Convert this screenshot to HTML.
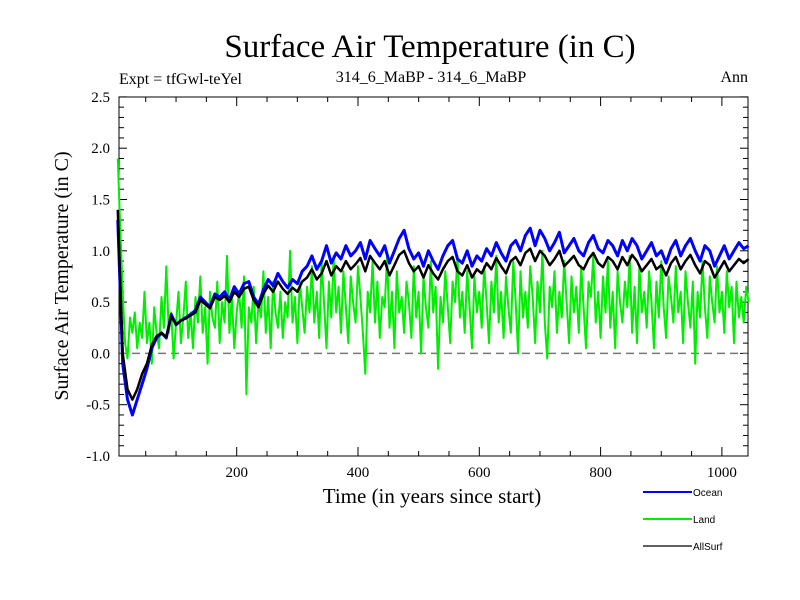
<!DOCTYPE html>
<html><head><meta charset="utf-8"><style>
body{margin:0;background:#fff;}
svg{display:block;font-family:"Liberation Serif",serif;}
</style></head><body>
<svg id="chart" width="800" height="600">
<text x="430" y="57" font-size="33" text-anchor="middle">Surface Air Temperature (in C)</text>
<text x="119" y="84" font-size="16">Expt = tfGwl-teYel</text>
<text x="431" y="82" font-size="16" text-anchor="middle">314_6_MaBP - 314_6_MaBP</text>
<text x="748" y="82" font-size="16" text-anchor="end">Ann</text>
<text x="432" y="503" font-size="21" text-anchor="middle">Time (in years since start)</text>
<text transform="translate(68,276) rotate(-90)" font-size="20" text-anchor="middle">Surface Air Temperature (in C)</text>
<g id="axes"></g>
<g id="series"></g>
<g id="legend"></g>
</svg>
<script>
const yTicks=[-1.0,-0.5,0.0,0.5,1.0,1.5,2.0,2.5];
const xTicks=[200,400,600,800,1000];
const seriesNames=["Ocean","Land","AllSurf"];
const ocean=[1.3,-0.1,-0.45,-0.6,-0.45,-0.3,-0.15,0.05,0.15,0.2,0.15,0.38,0.28,0.32,0.35,0.38,0.42,0.55,0.5,0.45,0.58,0.55,0.6,0.52,0.65,0.58,0.68,0.7,0.55,0.48,0.62,0.72,0.66,0.78,0.7,0.64,0.72,0.68,0.8,0.85,0.95,0.82,0.9,1.05,0.88,0.98,0.92,1.05,0.95,1.0,1.08,0.92,1.1,1.02,0.95,1.05,0.88,1.0,1.12,1.2,1.02,0.92,0.98,0.85,1.0,0.9,0.82,0.95,1.05,1.1,0.92,0.88,1.0,0.85,0.95,0.9,1.02,0.95,1.08,0.98,0.9,1.05,1.1,1.0,1.15,1.22,1.05,1.2,1.12,1.0,1.08,1.18,0.98,1.05,1.12,1.0,0.95,1.08,1.15,1.02,0.98,1.1,1.05,0.95,1.1,1.0,1.12,1.05,0.92,1.0,1.08,0.95,1.0,0.88,1.02,1.1,0.95,1.05,1.12,1.0,0.9,1.05,1.0,0.85,0.95,1.05,0.92,1.0,1.08,1.02,1.05];
const allsurf=[1.4,0.0,-0.35,-0.45,-0.35,-0.2,-0.1,0.08,0.17,0.2,0.16,0.36,0.28,0.32,0.34,0.37,0.4,0.52,0.48,0.44,0.55,0.52,0.56,0.5,0.6,0.55,0.63,0.65,0.52,0.45,0.58,0.66,0.6,0.7,0.63,0.58,0.64,0.6,0.7,0.74,0.82,0.72,0.78,0.9,0.76,0.85,0.8,0.9,0.82,0.87,0.93,0.8,0.95,0.88,0.82,0.9,0.76,0.86,0.96,1.0,0.88,0.8,0.85,0.74,0.86,0.78,0.72,0.82,0.9,0.94,0.8,0.76,0.86,0.74,0.82,0.78,0.88,0.82,0.93,0.85,0.78,0.9,0.94,0.86,0.98,1.02,0.9,1.0,0.95,0.86,0.92,1.0,0.85,0.9,0.95,0.86,0.82,0.92,0.98,0.88,0.84,0.94,0.9,0.82,0.94,0.86,0.96,0.9,0.8,0.86,0.92,0.82,0.86,0.76,0.88,0.94,0.82,0.9,0.96,0.86,0.78,0.9,0.86,0.74,0.82,0.9,0.8,0.86,0.92,0.88,0.92];
const land=[1.9,1.2,0.6,0.1,-0.05,0.35,0.2,0.4,0.05,0.3,
0.15,0.6,0.1,0.3,-0.1,0.45,0.2,0.05,0.55,0.25,
0.85,0.2,0.4,-0.05,0.3,0.6,0.1,0.35,0.7,0.15,
0.4,0.05,0.55,0.3,0.75,0.2,0.45,-0.1,0.6,0.35,
0.25,0.7,0.1,0.5,0.3,0.95,0.2,0.55,0.05,0.4,
0.6,0.25,0.75,-0.4,0.45,0.3,0.65,0.1,0.5,0.35,
0.8,0.2,0.55,0.05,0.7,0.4,0.25,0.6,0.15,0.5,
0.35,1.0,0.3,0.55,0.1,0.7,0.45,0.2,0.65,0.4,
0.85,0.3,0.6,0.15,0.9,0.5,0.05,0.7,0.35,0.95,
0.4,0.65,0.2,0.8,0.45,0.1,0.75,0.5,0.3,0.85,
0.55,0.2,-0.2,0.6,0.4,0.9,0.3,0.7,0.15,0.55,
0.45,0.95,0.25,0.6,0.05,0.8,0.4,0.55,0.2,0.7,
0.5,0.15,0.85,0.35,0.6,0.0,0.75,0.45,0.25,0.9,
0.4,0.65,-0.15,0.55,0.3,0.8,0.45,0.1,0.7,0.5,
0.95,0.35,0.6,0.2,0.8,0.45,0.05,0.75,0.4,0.6,
0.25,0.85,0.5,0.1,0.7,0.4,0.95,0.3,0.6,0.15,
0.75,0.45,0.2,0.9,0.5,0.0,0.8,0.35,0.6,0.25,
0.85,0.55,0.1,0.7,0.4,1.0,0.3,-0.05,0.65,0.45,
0.8,0.2,0.6,0.35,0.9,0.5,0.1,0.75,0.4,0.65,
0.2,0.85,0.45,0.05,0.7,0.55,0.95,0.3,0.6,0.15,
0.75,0.4,0.9,0.25,0.6,0.05,0.8,0.5,0.3,0.7,
0.45,0.95,0.2,0.65,0.1,0.85,0.4,0.6,0.25,0.8,
0.5,0.05,0.7,0.35,0.9,0.45,0.15,0.75,0.55,0.3,
0.85,0.4,0.6,0.1,0.8,0.5,0.25,0.7,-0.1,0.6,
0.35,0.9,0.45,0.15,0.75,0.5,0.3,0.85,0.4,0.6,
0.2,0.8,0.45,0.65,0.1,0.7,0.35,0.55,0.3,0.65,
0.5];
const X0=115.4,XS=0.6065,Y0=353.4,YS=102.6,L=119,R=748,T=97,B=456;
function xs(t){return X0+XS*t;}
function ys(v){return Y0-YS*v;}
const NS="http://www.w3.org/2000/svg";
function mk(tag,attrs,parent){const e=document.createElementNS(NS,tag);for(const k in attrs)e.setAttribute(k,attrs[k]);parent.appendChild(e);return e;}
const axes=document.getElementById('axes');
for(let v=-1.0;v<=2.5001;v+=0.1){const y=ys(v);const major=Math.abs(v*2-Math.round(v*2))<1e-6;const w=major?8:5;
 const t1=mk('line',{x1:L,x2:L+w,y1:y,y2:y,stroke:'#000','stroke-width':1},axes);
 const t2=mk('line',{x1:R,x2:R-w,y1:y,y2:y,stroke:'#000','stroke-width':1},axes);}
yTicks.forEach(v=>{const t=mk('text',{x:110,y:ys(v)+5,'font-size':15,'text-anchor':'end'},axes);t.textContent=v.toFixed(1);});
for(let t=50;t<=1040;t+=50){const x=xs(t);const major=t%200===0;const h=major?9:5;
 const a=mk('line',{x1:x,x2:x,y1:B,y2:B-h,stroke:'#000','stroke-width':1},axes);
 const b=mk('line',{x1:x,x2:x,y1:T,y2:T+h,stroke:'#000','stroke-width':1},axes);}
xTicks.forEach(v=>{const t=mk('text',{x:xs(v),y:477,'font-size':15,'text-anchor':'middle'},axes);t.textContent=String(v);});
const zl=mk('line',{x1:L,x2:R,y1:ys(0),y2:ys(0),stroke:'#777','stroke-width':1.5,'stroke-dasharray':'8,5'},axes);

const ser=document.getElementById('series');
function draw(arr,step,color,name,w){const pts=arr.map((v,i)=>xs(4+step*i).toFixed(1)+','+ys(v).toFixed(1)).join(' ');
 const p=mk('polyline',{points:pts,fill:'none',stroke:color,'stroke-width':w,'stroke-linejoin':'round'},ser);
 }
draw(land,4,'#00ee00','land-series',2);
draw(ocean,8,'#0000ff','ocean-series',3);
draw(allsurf,8,'#000','allsurf-series',2.5);
const frame=mk('rect',{x:L,y:T,width:R-L,height:B-T,fill:'none',stroke:'#000','stroke-width':1},axes);

const lg=document.getElementById('legend');
const lc=['#0000ff','#00ee00','#000'];
seriesNames.forEach((n,i)=>{const y=492+27*i;
 const l=mk('line',{x1:643,x2:692,y1:y,y2:y,stroke:lc[i],'stroke-width':i===2?1.3:2},lg);
 const t=mk('text',{x:693,y:y+4,'font-size':10,'font-family':'Liberation Sans, sans-serif'},lg);t.textContent=n;});
</script>
</body></html>
